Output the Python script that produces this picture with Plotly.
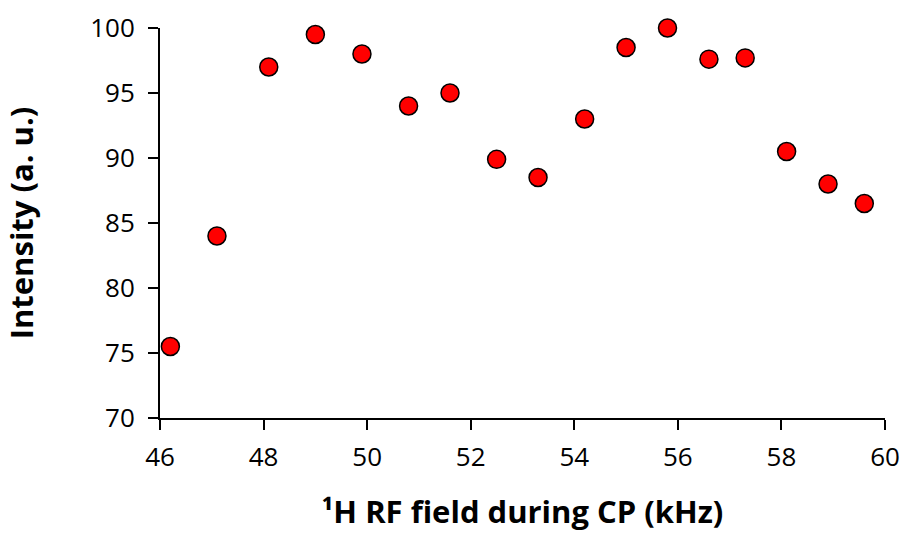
import plotly.graph_objects as go

rf_field_khz = [46.2, 47.1, 48.1, 49.0, 49.9, 50.8, 51.6, 52.5, 53.3, 54.2,
                55.0, 55.8, 56.6, 57.3, 58.1, 58.9, 59.6]
intensity = [75.5, 84.0, 97.0, 99.5, 98.0, 94.0, 95.0, 89.9, 88.5, 93.0,
             98.5, 100.0, 97.6, 97.7, 90.5, 88.0, 86.5]
x_ticks = [46, 48, 50, 52, 54, 56, 58, 60]
y_ticks = [70, 75, 80, 85, 90, 95, 100]

FONT = "Open Sans, Carlito, Calibri, sans-serif"

fig = go.Figure(go.Scatter(
    x=rf_field_khz, y=intensity, mode="markers",
    marker=dict(size=18, color="#ff0000", line=dict(color="black", width=1.5)),
    cliponaxis=False,
))

fig.update_layout(
    width=908, height=538,
    margin=dict(l=160, r=23, t=28, b=120),
    paper_bgcolor="white", plot_bgcolor="white",
    font=dict(family=FONT, color="black", size=26),
    showlegend=False,
    xaxis=dict(
        range=[46, 60], tickvals=x_ticks, showgrid=False, zeroline=False,
        showline=True, linecolor="black", linewidth=2, automargin=False,
        ticks="outside", ticklen=10, tickwidth=2, tickcolor="black",
        ticklabelstandoff=5,
        tickfont=dict(size=26),
        title=dict(text="¹H RF field during CP (kHz)",
                   font=dict(size=31, family=FONT, weight="bold"), standoff=28),
    ),
    yaxis=dict(
        range=[70, 100], tickvals=y_ticks, showgrid=False, zeroline=False,
        showline=True, linecolor="black", linewidth=2, automargin=False,
        ticks="outside", ticklen=10, tickwidth=2, tickcolor="black",
        ticklabelstandoff=8,
        tickfont=dict(size=26),
        title=dict(text="Intensity (a. u.)",
                   font=dict(size=31, family=FONT, weight="bold"), standoff=48),
    ),
)

fig.write_html("out.html", config={"displayModeBar": False},
               post_script="document.body.style.margin='0';")
